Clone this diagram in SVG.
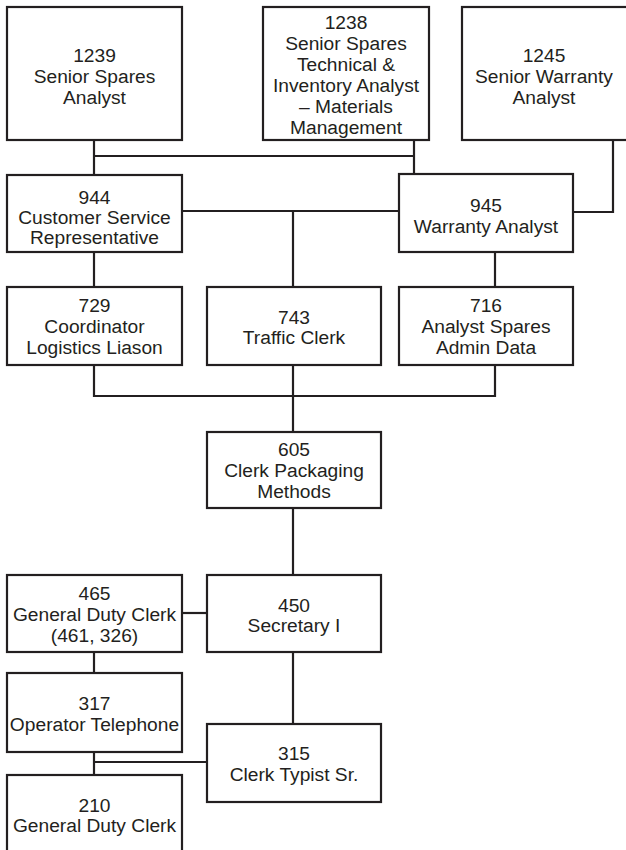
<svg xmlns="http://www.w3.org/2000/svg" width="626" height="850" viewBox="0 0 626 850">
  <style>
    .box { fill: #ffffff; stroke: #231f20; stroke-width: 2.2; }
    .link { fill: none; stroke: #231f20; stroke-width: 2.2; }
    text { font-family: "Liberation Sans", Arial, sans-serif; font-size: 19.2px; fill: #231f20; text-anchor: middle; }
  </style>
  <rect width="626" height="850" fill="#ffffff"/>

  <!-- reporting lines -->
  <g id="connectors">
    <polyline class="link" points="94,140 94,175"/>
    <polyline class="link" points="94,156 414,156"/>
    <polyline class="link" points="414,140 414,174"/>
    <polyline class="link" points="613,140 613,212 573,212"/>
    <polyline class="link" points="182,211 399,211"/>
    <polyline class="link" points="293,211 293,287"/>
    <polyline class="link" points="94,252 94,287"/>
    <polyline class="link" points="495,252 495,287"/>
    <polyline class="link" points="94,365 94,396 495,396 495,365"/>
    <polyline class="link" points="293,365 293,432"/>
    <polyline class="link" points="293,508 293,575"/>
    <polyline class="link" points="182,613 207,613"/>
    <polyline class="link" points="94,652 94,673"/>
    <polyline class="link" points="293,652 293,724"/>
    <polyline class="link" points="94,752 94,775"/>
    <polyline class="link" points="94,762 207,762"/>
  </g>

  <g id="n1239">
    <rect class="box" x="7" y="7" width="175" height="133"/>
    <text x="94.5" y="62">1239</text>
    <text x="94.5" y="83">Senior Spares</text>
    <text x="94.5" y="104">Analyst</text>
  </g>

  <g id="n1238">
    <rect class="box" x="263" y="7" width="166" height="133"/>
    <text x="346" y="29">1238</text>
    <text x="346" y="50">Senior Spares</text>
    <text x="346" y="71">Technical &amp;</text>
    <text x="346" y="92">Inventory Analyst</text>
    <text x="346" y="113">– Materials</text>
    <text x="346" y="134">Management</text>
  </g>

  <g id="n1245">
    <rect class="box" x="462" y="7" width="170" height="133"/>
    <text x="544" y="62">1245</text>
    <text x="544" y="83">Senior Warranty</text>
    <text x="544" y="104">Analyst</text>
  </g>

  <g id="n944">
    <rect class="box" x="7" y="175" width="175" height="77"/>
    <text x="94.5" y="204">944</text>
    <text x="94.5" y="224">Customer Service</text>
    <text x="94.5" y="244">Representative</text>
  </g>

  <g id="n945">
    <rect class="box" x="399" y="174" width="174" height="78"/>
    <text x="486" y="212">945</text>
    <text x="486" y="233">Warranty Analyst</text>
  </g>

  <g id="n729">
    <rect class="box" x="7" y="287" width="175" height="78"/>
    <text x="94.5" y="312">729</text>
    <text x="94.5" y="333">Coordinator</text>
    <text x="94.5" y="354">Logistics Liason</text>
  </g>

  <g id="n743">
    <rect class="box" x="207" y="287" width="174" height="78"/>
    <text x="294" y="324">743</text>
    <text x="294" y="344">Traffic Clerk</text>
  </g>

  <g id="n716">
    <rect class="box" x="399" y="287" width="174" height="78"/>
    <text x="486" y="312">716</text>
    <text x="486" y="333">Analyst Spares</text>
    <text x="486" y="354">Admin Data</text>
  </g>

  <g id="n605">
    <rect class="box" x="207" y="432" width="174" height="76"/>
    <text x="294" y="456">605</text>
    <text x="294" y="477">Clerk Packaging</text>
    <text x="294" y="498">Methods</text>
  </g>

  <g id="n465">
    <rect class="box" x="7" y="575" width="175" height="77"/>
    <text x="94.5" y="600">465</text>
    <text x="94.5" y="621">General Duty Clerk</text>
    <text x="94.5" y="642">(461, 326)</text>
  </g>

  <g id="n450">
    <rect class="box" x="207" y="575" width="174" height="77"/>
    <text x="294" y="612">450</text>
    <text x="294" y="632">Secretary I</text>
  </g>

  <g id="n317">
    <rect class="box" x="7" y="673" width="175" height="79"/>
    <text x="94.5" y="710">317</text>
    <text x="94.5" y="731">Operator Telephone</text>
  </g>

  <g id="n315">
    <rect class="box" x="207" y="724" width="174" height="78"/>
    <text x="294" y="760">315</text>
    <text x="294" y="781">Clerk Typist Sr.</text>
  </g>

  <g id="n210">
    <rect class="box" x="7" y="775" width="175" height="90"/>
    <text x="94.5" y="812">210</text>
    <text x="94.5" y="832">General Duty Clerk</text>
  </g>
</svg>
